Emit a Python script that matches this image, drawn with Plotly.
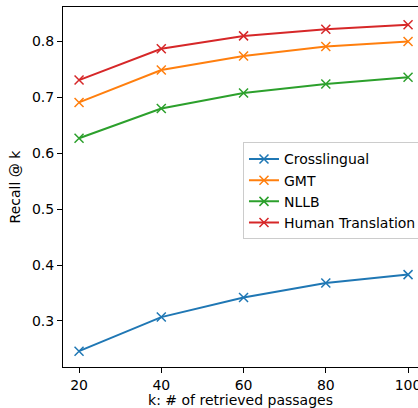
import plotly.graph_objects as go

k_values = [20, 40, 60, 80, 100]
crosslingual = [0.246, 0.307, 0.342, 0.368, 0.383]
gmt = [0.691, 0.749, 0.774, 0.791, 0.800]
nllb = [0.627, 0.680, 0.708, 0.724, 0.736]
human = [0.731, 0.787, 0.810, 0.822, 0.830]

series = [
    ("Crosslingual", crosslingual, "#1f77b4"),
    ("GMT", gmt, "#ff7f0e"),
    ("NLLB", nllb, "#2ca02c"),
    ("Human Translation", human, "#d62728"),
]

fig = go.Figure()
for name, vals, color in series:
    fig.add_trace(go.Scatter(
        x=k_values, y=vals, name=name, mode="lines+markers",
        line=dict(color=color, width=2),
        marker=dict(symbol="x-thin", size=9, line=dict(color=color, width=1.5)),
    ))

font = dict(family="DejaVu Sans", size=14, color="black")
fig.update_layout(
    width=418, height=408,
    margin=dict(l=63, r=0, t=7, b=41, autoexpand=False),
    plot_bgcolor="white", paper_bgcolor="white",
    font=font,
    showlegend=True,
    legend=dict(
        x=0.507, y=0.624, xanchor="left", yanchor="top",
        bgcolor="rgba(255,255,255,0.8)", bordercolor="#cccccc", borderwidth=1,
        font=dict(family="DejaVu Sans", size=14, color="black"),
        tracegroupgap=0,
    ),
)
fig.update_xaxes(
    range=[16.1, 102.42], tickvals=k_values, ticktext=[str(v) for v in k_values],
    automargin=False, ticklabeloverflow="allow",
    showgrid=False, zeroline=False, showline=True, linecolor="black", linewidth=1,
    mirror=True, ticks="outside", ticklen=5, tickwidth=1, tickcolor="black",
    title=dict(text="k: # of retrieved passages", standoff=4, font=font),
)
fig.update_yaxes(
    range=[0.2177, 0.8617], tickvals=[0.3, 0.4, 0.5, 0.6, 0.7, 0.8], tickformat=".1f",
    automargin=False,
    showgrid=False, zeroline=False, showline=True, linecolor="black", linewidth=1,
    ticks="outside", ticklen=5, tickwidth=1, tickcolor="black",
    title=dict(text="Recall @ k", standoff=8, font=font),
)
fig.write_html(
    "out.html",
    config={"displayModeBar": False},
    post_script="document.body.style.margin='0';document.body.style.overflow='hidden';",
)
